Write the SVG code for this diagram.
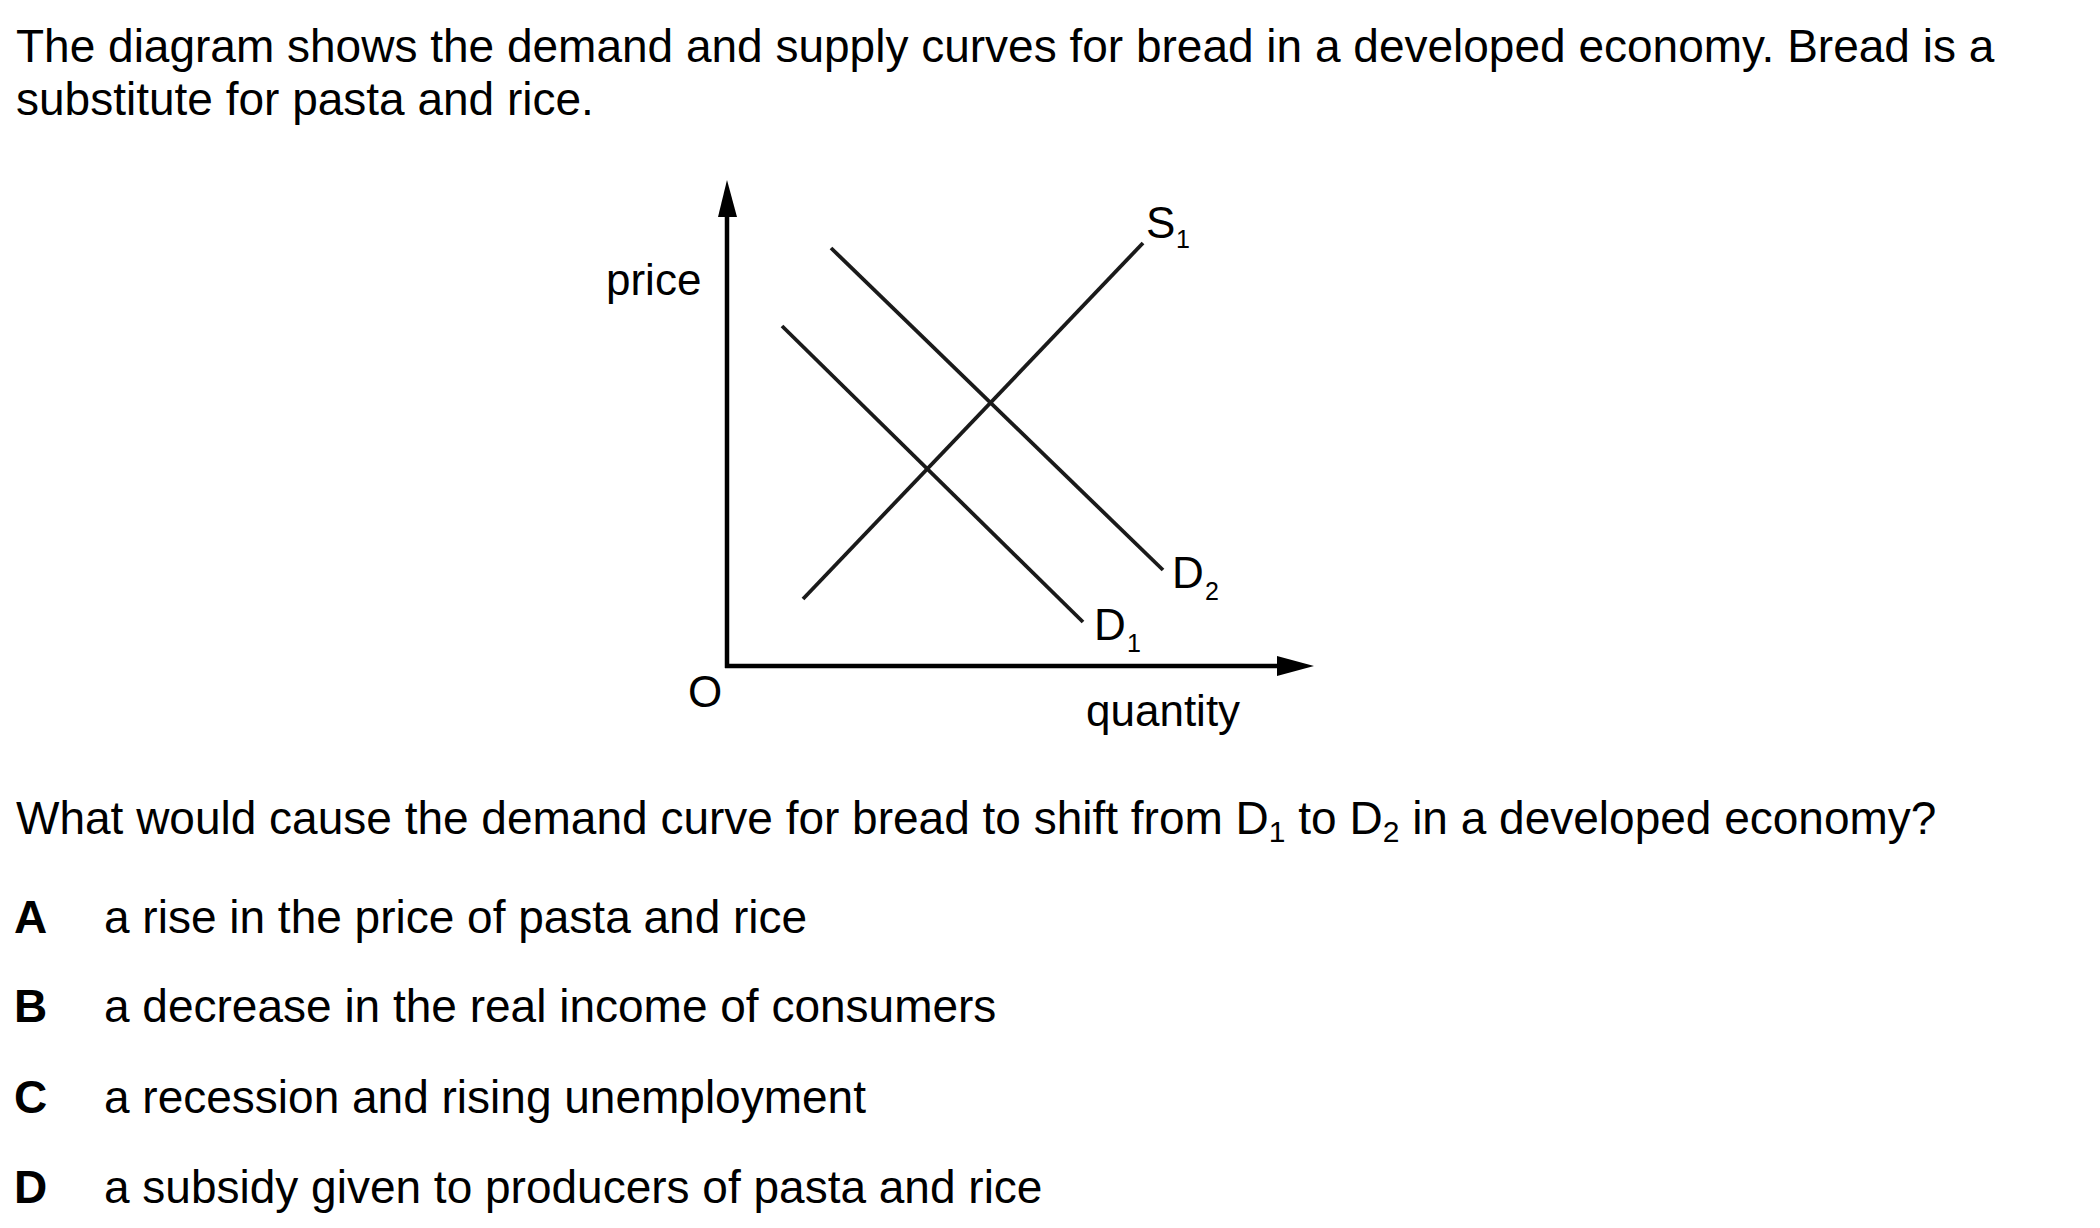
<svg xmlns="http://www.w3.org/2000/svg" width="2100" height="1228" viewBox="0 0 2100 1228">
<style>
text{font-family:"Liberation Sans",Arial,sans-serif;fill:#000}
.body{font-size:46px}
.lbl{font-size:44px}
.sub{font-size:25px}
.qsub{font-size:30px}
.key{font-size:46px;font-weight:bold}
.axis{stroke:#000;stroke-width:4.5;fill:none}
.curve{stroke:#1a1a1a;stroke-width:3.8;fill:none}
.head{fill:#000}
</style>
<rect width="2100" height="1228" fill="#fff"/>
<g id="intro">
<text class="body" x="16" y="62">The diagram shows the demand and supply curves for bread in a developed economy. Bread is a</text>
<text class="body" x="16" y="115">substitute for pasta and rice.</text>
</g>
<g id="axes">
<line class="axis" x1="727" y1="668" x2="727" y2="214"/>
<polygon class="head" points="727,180 718,217 737,217"/>
<line class="axis" x1="725" y1="666" x2="1280" y2="666"/>
<polygon class="head" points="1314,666 1277,656 1277,676"/>
<text class="lbl" x="606" y="295">price</text>
<text class="lbl" x="1086" y="726">quantity</text>
<text class="lbl" x="688" y="707">O</text>
</g>
<g id="connectors">
<line id="S1" class="curve" x1="803" y1="599" x2="1143" y2="243"/>
<line id="D1" class="curve" x1="782" y1="326" x2="1083" y2="622"/>
<line id="D2" class="curve" x1="831" y1="248" x2="1163" y2="570"/>
</g>
<g id="label-S1">
<text class="lbl" x="1146" y="238">S</text>
<text class="sub" x="1176" y="248">1</text>
</g>
<g id="label-D2">
<text class="lbl" x="1172" y="588">D</text>
<text class="sub" x="1205" y="600">2</text>
</g>
<g id="label-D1">
<text class="lbl" x="1094" y="640">D</text>
<text class="sub" x="1127" y="652">1</text>
</g>
<g id="question">
<text class="body" x="16" y="834">What would cause the demand curve for bread to shift from D<tspan class="qsub" dy="8">1</tspan><tspan dy="-8"> to D</tspan><tspan class="qsub" dy="8">2</tspan><tspan dy="-8"> in a developed economy?</tspan></text>
</g>
<g id="options">
<text class="key" x="14" y="933">A</text>
<text class="body" x="104" y="933">a rise in the price of pasta and rice</text>
<text class="key" x="14" y="1022">B</text>
<text class="body" x="104" y="1022">a decrease in the real income of consumers</text>
<text class="key" x="14" y="1113">C</text>
<text class="body" x="104" y="1113">a recession and rising unemployment</text>
<text class="key" x="14" y="1203">D</text>
<text class="body" x="104" y="1203">a subsidy given to producers of pasta and rice</text>
</g>
</svg>
